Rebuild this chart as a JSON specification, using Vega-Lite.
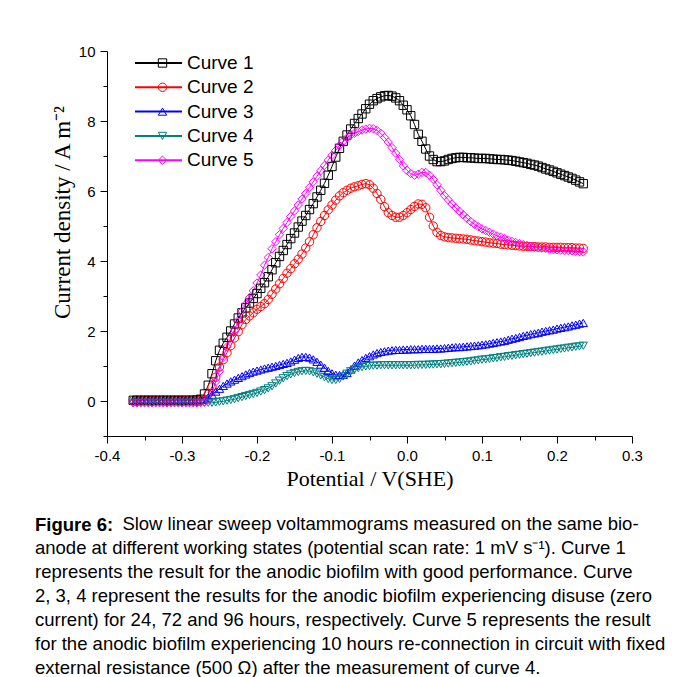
{
  "$schema": "https://vega.github.io/schema/vega-lite/v6.json",
  "width": 525,
  "height": 385,
  "autosize": "none",
  "padding": {"left": 107, "top": 51, "right": 51, "bottom": 241},
  "background": "white",
  "config": {
    "view": {"stroke": null},
    "axis": {"grid": false, "domainColor": "#000000", "tickColor": "#000000", "labelColor": "#000000", "titleColor": "#000000", "labelFont": "Liberation Sans", "titleFont": "Liberation Serif", "titleFontWeight": "normal"}
  },
  "data": {
    "values": [
      {"x": -0.365, "Curve 1": 0.02, "Curve 2": 0.01, "Curve 3": 0.03, "Curve 4": -0.05, "Curve 5": -0.05},
      {"x": -0.360, "Curve 1": 0.02, "Curve 2": 0.01, "Curve 3": 0.03, "Curve 4": -0.05, "Curve 5": -0.05},
      {"x": -0.355, "Curve 1": 0.02, "Curve 2": 0.01, "Curve 3": 0.03, "Curve 4": -0.05, "Curve 5": -0.05},
      {"x": -0.350, "Curve 1": 0.02, "Curve 2": 0.01, "Curve 3": 0.03, "Curve 4": -0.05, "Curve 5": -0.05},
      {"x": -0.345, "Curve 1": 0.02, "Curve 2": 0.01, "Curve 3": 0.03, "Curve 4": -0.05, "Curve 5": -0.05},
      {"x": -0.340, "Curve 1": 0.02, "Curve 2": 0.01, "Curve 3": 0.03, "Curve 4": -0.05, "Curve 5": -0.05},
      {"x": -0.335, "Curve 1": 0.02, "Curve 2": 0.01, "Curve 3": 0.03, "Curve 4": -0.05, "Curve 5": -0.05},
      {"x": -0.330, "Curve 1": 0.02, "Curve 2": 0.01, "Curve 3": 0.03, "Curve 4": -0.05, "Curve 5": -0.05},
      {"x": -0.325, "Curve 1": 0.02, "Curve 2": 0.01, "Curve 3": 0.03, "Curve 4": -0.05, "Curve 5": -0.05},
      {"x": -0.320, "Curve 1": 0.02, "Curve 2": 0.01, "Curve 3": 0.03, "Curve 4": -0.05, "Curve 5": -0.05},
      {"x": -0.315, "Curve 1": 0.02, "Curve 2": 0.01, "Curve 3": 0.03, "Curve 4": -0.05, "Curve 5": -0.05},
      {"x": -0.310, "Curve 1": 0.02, "Curve 2": 0.01, "Curve 3": 0.03, "Curve 4": -0.05, "Curve 5": -0.05},
      {"x": -0.305, "Curve 1": 0.02, "Curve 2": 0.01, "Curve 3": 0.03, "Curve 4": -0.05, "Curve 5": -0.05},
      {"x": -0.300, "Curve 1": 0.02, "Curve 2": 0.01, "Curve 3": 0.03, "Curve 4": -0.05, "Curve 5": -0.05},
      {"x": -0.295, "Curve 1": 0.02, "Curve 2": 0.01, "Curve 3": 0.03, "Curve 4": -0.05, "Curve 5": -0.05},
      {"x": -0.290, "Curve 1": 0.02, "Curve 2": 0.01, "Curve 3": 0.03, "Curve 4": -0.05, "Curve 5": -0.05},
      {"x": -0.285, "Curve 1": 0.02, "Curve 2": 0.01, "Curve 3": 0.03, "Curve 4": -0.05, "Curve 5": -0.05},
      {"x": -0.280, "Curve 1": 0.03, "Curve 2": 0.01, "Curve 3": 0.03, "Curve 4": -0.05, "Curve 5": -0.05},
      {"x": -0.275, "Curve 1": 0.05, "Curve 2": 0.02, "Curve 3": 0.04, "Curve 4": -0.05, "Curve 5": -0.04},
      {"x": -0.270, "Curve 1": 0.2, "Curve 2": 0.05, "Curve 3": 0.05, "Curve 4": -0.05, "Curve 5": -0.03},
      {"x": -0.265, "Curve 1": 0.45, "Curve 2": 0.2, "Curve 3": 0.1, "Curve 4": -0.05, "Curve 5": 0.05},
      {"x": -0.260, "Curve 1": 0.78, "Curve 2": 0.4, "Curve 3": 0.18, "Curve 4": -0.05, "Curve 5": 0.25},
      {"x": -0.255, "Curve 1": 1.15, "Curve 2": 0.68, "Curve 3": 0.27, "Curve 4": -0.04, "Curve 5": 0.55},
      {"x": -0.250, "Curve 1": 1.45, "Curve 2": 0.97, "Curve 3": 0.35, "Curve 4": -0.02, "Curve 5": 0.85},
      {"x": -0.245, "Curve 1": 1.65, "Curve 2": 1.18, "Curve 3": 0.43, "Curve 4": -0.01, "Curve 5": 1.25},
      {"x": -0.240, "Curve 1": 1.82, "Curve 2": 1.38, "Curve 3": 0.5, "Curve 4": 0.01, "Curve 5": 1.55},
      {"x": -0.235, "Curve 1": 2.0, "Curve 2": 1.58, "Curve 3": 0.56, "Curve 4": 0.03, "Curve 5": 1.8},
      {"x": -0.230, "Curve 1": 2.2, "Curve 2": 1.8, "Curve 3": 0.61, "Curve 4": 0.05, "Curve 5": 2.02},
      {"x": -0.225, "Curve 1": 2.37, "Curve 2": 1.98, "Curve 3": 0.66, "Curve 4": 0.08, "Curve 5": 2.3},
      {"x": -0.220, "Curve 1": 2.52, "Curve 2": 2.18, "Curve 3": 0.71, "Curve 4": 0.11, "Curve 5": 2.57},
      {"x": -0.215, "Curve 1": 2.66, "Curve 2": 2.33, "Curve 3": 0.76, "Curve 4": 0.14, "Curve 5": 2.77},
      {"x": -0.210, "Curve 1": 2.8, "Curve 2": 2.43, "Curve 3": 0.8, "Curve 4": 0.17, "Curve 5": 2.95},
      {"x": -0.205, "Curve 1": 2.93, "Curve 2": 2.52, "Curve 3": 0.84, "Curve 4": 0.2, "Curve 5": 3.15},
      {"x": -0.200, "Curve 1": 3.07, "Curve 2": 2.62, "Curve 3": 0.87, "Curve 4": 0.23, "Curve 5": 3.37},
      {"x": -0.195, "Curve 1": 3.22, "Curve 2": 2.7, "Curve 3": 0.9, "Curve 4": 0.27, "Curve 5": 3.6},
      {"x": -0.190, "Curve 1": 3.38, "Curve 2": 2.78, "Curve 3": 0.93, "Curve 4": 0.31, "Curve 5": 3.88},
      {"x": -0.185, "Curve 1": 3.55, "Curve 2": 2.9, "Curve 3": 0.95, "Curve 4": 0.36, "Curve 5": 4.1},
      {"x": -0.180, "Curve 1": 3.75, "Curve 2": 3.05, "Curve 3": 0.98, "Curve 4": 0.42, "Curve 5": 4.35},
      {"x": -0.175, "Curve 1": 3.95, "Curve 2": 3.2, "Curve 3": 1.0, "Curve 4": 0.5, "Curve 5": 4.55},
      {"x": -0.170, "Curve 1": 4.13, "Curve 2": 3.35, "Curve 3": 1.03, "Curve 4": 0.58, "Curve 5": 4.75},
      {"x": -0.165, "Curve 1": 4.3, "Curve 2": 3.5, "Curve 3": 1.06, "Curve 4": 0.65, "Curve 5": 4.93},
      {"x": -0.160, "Curve 1": 4.47, "Curve 2": 3.65, "Curve 3": 1.09, "Curve 4": 0.71, "Curve 5": 5.1},
      {"x": -0.155, "Curve 1": 4.64, "Curve 2": 3.78, "Curve 3": 1.13, "Curve 4": 0.76, "Curve 5": 5.27},
      {"x": -0.150, "Curve 1": 4.8, "Curve 2": 3.92, "Curve 3": 1.18, "Curve 4": 0.8, "Curve 5": 5.43},
      {"x": -0.145, "Curve 1": 4.97, "Curve 2": 4.05, "Curve 3": 1.23, "Curve 4": 0.83, "Curve 5": 5.6},
      {"x": -0.140, "Curve 1": 5.14, "Curve 2": 4.2, "Curve 3": 1.26, "Curve 4": 0.85, "Curve 5": 5.77},
      {"x": -0.135, "Curve 1": 5.3, "Curve 2": 4.37, "Curve 3": 1.26, "Curve 4": 0.86, "Curve 5": 5.93},
      {"x": -0.130, "Curve 1": 5.47, "Curve 2": 4.55, "Curve 3": 1.24, "Curve 4": 0.85, "Curve 5": 6.1},
      {"x": -0.125, "Curve 1": 5.64, "Curve 2": 4.75, "Curve 3": 1.19, "Curve 4": 0.82, "Curve 5": 6.26},
      {"x": -0.120, "Curve 1": 5.83, "Curve 2": 4.95, "Curve 3": 1.12, "Curve 4": 0.78, "Curve 5": 6.42},
      {"x": -0.115, "Curve 1": 6.02, "Curve 2": 5.13, "Curve 3": 1.04, "Curve 4": 0.73, "Curve 5": 6.58},
      {"x": -0.110, "Curve 1": 6.22, "Curve 2": 5.3, "Curve 3": 0.95, "Curve 4": 0.68, "Curve 5": 6.73},
      {"x": -0.105, "Curve 1": 6.45, "Curve 2": 5.46, "Curve 3": 0.86, "Curve 4": 0.63, "Curve 5": 6.88},
      {"x": -0.100, "Curve 1": 6.7, "Curve 2": 5.6, "Curve 3": 0.79, "Curve 4": 0.6, "Curve 5": 7.02},
      {"x": -0.095, "Curve 1": 6.97, "Curve 2": 5.74, "Curve 3": 0.75, "Curve 4": 0.6, "Curve 5": 7.16},
      {"x": -0.090, "Curve 1": 7.22, "Curve 2": 5.86, "Curve 3": 0.74, "Curve 4": 0.63, "Curve 5": 7.3},
      {"x": -0.085, "Curve 1": 7.42, "Curve 2": 5.95, "Curve 3": 0.75, "Curve 4": 0.7, "Curve 5": 7.42},
      {"x": -0.080, "Curve 1": 7.6, "Curve 2": 6.02, "Curve 3": 0.8, "Curve 4": 0.78, "Curve 5": 7.52},
      {"x": -0.075, "Curve 1": 7.77, "Curve 2": 6.08, "Curve 3": 0.9, "Curve 4": 0.85, "Curve 5": 7.6},
      {"x": -0.070, "Curve 1": 7.93, "Curve 2": 6.12, "Curve 3": 1.01, "Curve 4": 0.9, "Curve 5": 7.65},
      {"x": -0.065, "Curve 1": 8.07, "Curve 2": 6.15, "Curve 3": 1.1, "Curve 4": 0.94, "Curve 5": 7.7},
      {"x": -0.060, "Curve 1": 8.2, "Curve 2": 6.19, "Curve 3": 1.17, "Curve 4": 0.97, "Curve 5": 7.74},
      {"x": -0.055, "Curve 1": 8.35, "Curve 2": 6.21, "Curve 3": 1.23, "Curve 4": 0.99, "Curve 5": 7.77},
      {"x": -0.050, "Curve 1": 8.48, "Curve 2": 6.18, "Curve 3": 1.28, "Curve 4": 1.0, "Curve 5": 7.79},
      {"x": -0.045, "Curve 1": 8.58, "Curve 2": 6.08, "Curve 3": 1.33, "Curve 4": 1.01, "Curve 5": 7.78},
      {"x": -0.040, "Curve 1": 8.64, "Curve 2": 5.93, "Curve 3": 1.37, "Curve 4": 1.01, "Curve 5": 7.73},
      {"x": -0.035, "Curve 1": 8.69, "Curve 2": 5.76, "Curve 3": 1.4, "Curve 4": 1.02, "Curve 5": 7.65},
      {"x": -0.030, "Curve 1": 8.72, "Curve 2": 5.55, "Curve 3": 1.42, "Curve 4": 1.02, "Curve 5": 7.53},
      {"x": -0.025, "Curve 1": 8.73, "Curve 2": 5.38, "Curve 3": 1.44, "Curve 4": 1.02, "Curve 5": 7.4},
      {"x": -0.020, "Curve 1": 8.71, "Curve 2": 5.3, "Curve 3": 1.45, "Curve 4": 1.02, "Curve 5": 7.24},
      {"x": -0.015, "Curve 1": 8.66, "Curve 2": 5.25, "Curve 3": 1.46, "Curve 4": 1.02, "Curve 5": 7.08},
      {"x": -0.010, "Curve 1": 8.58, "Curve 2": 5.25, "Curve 3": 1.46, "Curve 4": 1.02, "Curve 5": 6.9},
      {"x": -0.005, "Curve 1": 8.45, "Curve 2": 5.3, "Curve 3": 1.47, "Curve 4": 1.02, "Curve 5": 6.72},
      {"x": 0.000, "Curve 1": 8.32, "Curve 2": 5.38, "Curve 3": 1.47, "Curve 4": 1.02, "Curve 5": 6.59},
      {"x": 0.005, "Curve 1": 8.15, "Curve 2": 5.47, "Curve 3": 1.48, "Curve 4": 1.02, "Curve 5": 6.5},
      {"x": 0.010, "Curve 1": 7.9, "Curve 2": 5.56, "Curve 3": 1.48, "Curve 4": 1.02, "Curve 5": 6.45},
      {"x": 0.015, "Curve 1": 7.62, "Curve 2": 5.63, "Curve 3": 1.48, "Curve 4": 1.03, "Curve 5": 6.48},
      {"x": 0.020, "Curve 1": 7.42, "Curve 2": 5.62, "Curve 3": 1.49, "Curve 4": 1.03, "Curve 5": 6.53},
      {"x": 0.025, "Curve 1": 7.2, "Curve 2": 5.52, "Curve 3": 1.49, "Curve 4": 1.03, "Curve 5": 6.53},
      {"x": 0.030, "Curve 1": 7.0, "Curve 2": 5.25, "Curve 3": 1.49, "Curve 4": 1.04, "Curve 5": 6.45},
      {"x": 0.035, "Curve 1": 6.9, "Curve 2": 5.0, "Curve 3": 1.49, "Curve 4": 1.04, "Curve 5": 6.33},
      {"x": 0.040, "Curve 1": 6.84, "Curve 2": 4.82, "Curve 3": 1.5, "Curve 4": 1.05, "Curve 5": 6.18},
      {"x": 0.045, "Curve 1": 6.84, "Curve 2": 4.73, "Curve 3": 1.5, "Curve 4": 1.05, "Curve 5": 6.02},
      {"x": 0.050, "Curve 1": 6.86, "Curve 2": 4.69, "Curve 3": 1.51, "Curve 4": 1.06, "Curve 5": 5.87},
      {"x": 0.055, "Curve 1": 6.9, "Curve 2": 4.67, "Curve 3": 1.52, "Curve 4": 1.07, "Curve 5": 5.75},
      {"x": 0.060, "Curve 1": 6.93, "Curve 2": 4.66, "Curve 3": 1.53, "Curve 4": 1.08, "Curve 5": 5.63},
      {"x": 0.065, "Curve 1": 6.95, "Curve 2": 4.65, "Curve 3": 1.54, "Curve 4": 1.09, "Curve 5": 5.52},
      {"x": 0.070, "Curve 1": 6.96, "Curve 2": 4.64, "Curve 3": 1.54, "Curve 4": 1.1, "Curve 5": 5.42},
      {"x": 0.075, "Curve 1": 6.96, "Curve 2": 4.63, "Curve 3": 1.55, "Curve 4": 1.11, "Curve 5": 5.32},
      {"x": 0.080, "Curve 1": 6.95, "Curve 2": 4.62, "Curve 3": 1.56, "Curve 4": 1.12, "Curve 5": 5.22},
      {"x": 0.085, "Curve 1": 6.95, "Curve 2": 4.6, "Curve 3": 1.57, "Curve 4": 1.13, "Curve 5": 5.13},
      {"x": 0.090, "Curve 1": 6.94, "Curve 2": 4.58, "Curve 3": 1.58, "Curve 4": 1.15, "Curve 5": 5.05},
      {"x": 0.095, "Curve 1": 6.93, "Curve 2": 4.57, "Curve 3": 1.59, "Curve 4": 1.16, "Curve 5": 4.98},
      {"x": 0.100, "Curve 1": 6.93, "Curve 2": 4.55, "Curve 3": 1.61, "Curve 4": 1.18, "Curve 5": 4.92},
      {"x": 0.105, "Curve 1": 6.93, "Curve 2": 4.54, "Curve 3": 1.62, "Curve 4": 1.19, "Curve 5": 4.87},
      {"x": 0.110, "Curve 1": 6.92, "Curve 2": 4.52, "Curve 3": 1.64, "Curve 4": 1.2, "Curve 5": 4.82},
      {"x": 0.115, "Curve 1": 6.91, "Curve 2": 4.51, "Curve 3": 1.66, "Curve 4": 1.22, "Curve 5": 4.77},
      {"x": 0.120, "Curve 1": 6.9, "Curve 2": 4.5, "Curve 3": 1.68, "Curve 4": 1.23, "Curve 5": 4.72},
      {"x": 0.125, "Curve 1": 6.9, "Curve 2": 4.48, "Curve 3": 1.7, "Curve 4": 1.25, "Curve 5": 4.68},
      {"x": 0.130, "Curve 1": 6.89, "Curve 2": 4.47, "Curve 3": 1.72, "Curve 4": 1.26, "Curve 5": 4.64},
      {"x": 0.135, "Curve 1": 6.88, "Curve 2": 4.46, "Curve 3": 1.75, "Curve 4": 1.28, "Curve 5": 4.6},
      {"x": 0.140, "Curve 1": 6.87, "Curve 2": 4.45, "Curve 3": 1.78, "Curve 4": 1.29, "Curve 5": 4.56},
      {"x": 0.145, "Curve 1": 6.85, "Curve 2": 4.44, "Curve 3": 1.8, "Curve 4": 1.31, "Curve 5": 4.53},
      {"x": 0.150, "Curve 1": 6.83, "Curve 2": 4.43, "Curve 3": 1.83, "Curve 4": 1.32, "Curve 5": 4.5},
      {"x": 0.155, "Curve 1": 6.81, "Curve 2": 4.42, "Curve 3": 1.86, "Curve 4": 1.34, "Curve 5": 4.47},
      {"x": 0.160, "Curve 1": 6.79, "Curve 2": 4.42, "Curve 3": 1.88, "Curve 4": 1.35, "Curve 5": 4.44},
      {"x": 0.165, "Curve 1": 6.76, "Curve 2": 4.41, "Curve 3": 1.91, "Curve 4": 1.37, "Curve 5": 4.42},
      {"x": 0.170, "Curve 1": 6.74, "Curve 2": 4.41, "Curve 3": 1.93, "Curve 4": 1.38, "Curve 5": 4.4},
      {"x": 0.175, "Curve 1": 6.71, "Curve 2": 4.4, "Curve 3": 1.95, "Curve 4": 1.4, "Curve 5": 4.38},
      {"x": 0.180, "Curve 1": 6.67, "Curve 2": 4.4, "Curve 3": 1.98, "Curve 4": 1.41, "Curve 5": 4.37},
      {"x": 0.185, "Curve 1": 6.63, "Curve 2": 4.4, "Curve 3": 2.0, "Curve 4": 1.43, "Curve 5": 4.36},
      {"x": 0.190, "Curve 1": 6.6, "Curve 2": 4.39, "Curve 3": 2.02, "Curve 4": 1.44, "Curve 5": 4.34},
      {"x": 0.195, "Curve 1": 6.56, "Curve 2": 4.39, "Curve 3": 2.04, "Curve 4": 1.46, "Curve 5": 4.33},
      {"x": 0.200, "Curve 1": 6.52, "Curve 2": 4.39, "Curve 3": 2.07, "Curve 4": 1.47, "Curve 5": 4.32},
      {"x": 0.205, "Curve 1": 6.48, "Curve 2": 4.39, "Curve 3": 2.09, "Curve 4": 1.49, "Curve 5": 4.31},
      {"x": 0.210, "Curve 1": 6.44, "Curve 2": 4.38, "Curve 3": 2.11, "Curve 4": 1.5, "Curve 5": 4.3},
      {"x": 0.215, "Curve 1": 6.4, "Curve 2": 4.38, "Curve 3": 2.13, "Curve 4": 1.52, "Curve 5": 4.3},
      {"x": 0.220, "Curve 1": 6.36, "Curve 2": 4.38, "Curve 3": 2.16, "Curve 4": 1.53, "Curve 5": 4.29},
      {"x": 0.225, "Curve 1": 6.31, "Curve 2": 4.37, "Curve 3": 2.18, "Curve 4": 1.55, "Curve 5": 4.28},
      {"x": 0.230, "Curve 1": 6.26, "Curve 2": 4.37, "Curve 3": 2.21, "Curve 4": 1.56, "Curve 5": 4.27},
      {"x": 0.235, "Curve 1": 6.21, "Curve 2": 4.36, "Curve 3": 2.23, "Curve 4": 1.58, "Curve 5": 4.26}
    ]
  },
  "transform": [
    {"fold": ["Curve 1", "Curve 2", "Curve 3", "Curve 4", "Curve 5"], "as": ["curve", "density"]}
  ],
  "encoding": {
    "x": {
      "field": "x", "type": "quantitative",
      "scale": {"domain": [-0.4, 0.3], "nice": false, "zero": false},
      "axis": {
        "title": "Potential / V(SHE)",
        "titleFontSize": 22, "titlePadding": 5,
        "values": [-0.4, -0.35, -0.3, -0.25, -0.2, -0.15, -0.1, -0.05, 0, 0.05, 0.1, 0.15, 0.2, 0.25, 0.3],
        "labelExpr": "abs(round(datum.value*20)) % 2 == 1 ? '' : replace(format(datum.value, '.1f'), '\u2212', '-')",
        "tickSize": {"condition": {"test": "abs(round(datum.value*20)) % 2 == 1", "value": 4}, "value": 7},
        "labelFontSize": 15, "labelPadding": 5, "labelFlush": false, "labelOverlap": false
      }
    },
    "y": {
      "field": "density", "type": "quantitative",
      "scale": {"domain": [-1, 10], "nice": false, "zero": false},
      "axis": {
        "title": "Current density / A m⁻²",
        "titleFontSize": 23, "titlePadding": 4, "titleY": 161,
        "values": [-1, 0, 1, 2, 3, 4, 5, 6, 7, 8, 9, 10],
        "labelExpr": "datum.value % 2 != 0 ? '' : datum.label",
        "tickSize": {"condition": {"test": "datum.value % 2 != 0", "value": 4}, "value": 7},
        "labelFontSize": 15, "labelPadding": 5, "labelFlush": false, "labelOverlap": false
      }
    }
  },
  "layer": [
    {
      "mark": {"type": "line", "strokeWidth": 1},
      "encoding": {
        "color": {
          "field": "curve", "type": "nominal",
          "scale": {"domain": ["Curve 1", "Curve 2", "Curve 3", "Curve 4", "Curve 5"], "range": ["#000000", "#FF0000", "#0000FF", "#008080", "#FF00FF"]},
          "legend": {
            "orient": "none", "legendX": 27, "legendY": 2, "title": null, "padding": 0,
            "symbolType": "stroke", "symbolSize": 2209, "symbolStrokeWidth": 2,
            "labelFont": "Liberation Sans", "labelFontSize": 19, "labelColor": "#000000", "labelOffset": 4,
            "clipHeight": 20, "rowPadding": 4.3
          }
        }
      }
    },
    {
      "mark": {"type": "point", "filled": false, "size": 70, "strokeWidth": 1, "opacity": 1},
      "encoding": {
        "shape": {
          "field": "curve", "type": "nominal",
          "scale": {"range": ["square", "circle", "triangle-up", "triangle-down", "diamond"]},
          "legend": {
            "orient": "none", "legendX": 46, "legendY": 2, "title": null, "padding": 0, "zindex": 1,
            "symbolSize": 70, "symbolStrokeWidth": 1, "symbolFillColor": "#FFFFFF",
            "labelFont": "Liberation Sans", "labelFontSize": 19, "labelExpr": "''", "labelOffset": 4,
            "clipHeight": 20, "rowPadding": 4.3
          }
        },
        "stroke": {
          "field": "curve", "type": "nominal",
          "scale": {"range": ["#000000", "#FF0000", "#0000FF", "#008080", "#FF00FF"]},
          "legend": {
            "orient": "none", "legendX": 46, "legendY": 2, "title": null, "padding": 0, "zindex": 1,
            "symbolSize": 70, "symbolStrokeWidth": 1, "symbolFillColor": "#FFFFFF",
            "labelFont": "Liberation Sans", "labelFontSize": 19, "labelExpr": "''", "labelOffset": 4,
            "clipHeight": 20, "rowPadding": 4.3
          }
        }
      }
    }
  ],
  "title": {
    "text": "Figure 6:",
    "subtitle": [
      "\u200b\u00a0\u00a0\u00a0\u00a0\u00a0\u00a0\u00a0\u00a0\u00a0\u00a0\u00a0\u00a0\u00a0\u00a0\u00a0\u00a0\u00a0Slow linear sweep voltammograms measured on the same bio-",
      "anode at different working states (potential scan rate: 1 mV s⁻¹). Curve 1",
      "represents the result for the anodic biofilm with good performance. Curve",
      "2, 3, 4 represent the results for the anodic biofilm experiencing disuse (zero",
      "current) for 24, 72 and 96 hours, respectively. Curve 5 represents the result",
      "for the anodic biofilm experiencing 10 hours re-connection in circuit with fixed",
      "external resistance (500 Ω) after the measurement of curve 4."
    ],
    "orient": "bottom", "anchor": "start", "frame": "group", "dx": -72, "offset": 27,
    "font": "Liberation Sans", "fontSize": 18.5, "fontWeight": "bold", "color": "#000000", "baseline": "top", "lineHeight": 24,
    "subtitleFont": "Liberation Sans", "subtitleFontSize": 18.5, "subtitleFontWeight": "normal", "subtitleColor": "#000000", "subtitleLineHeight": 24, "subtitlePadding": -20
  }
}
